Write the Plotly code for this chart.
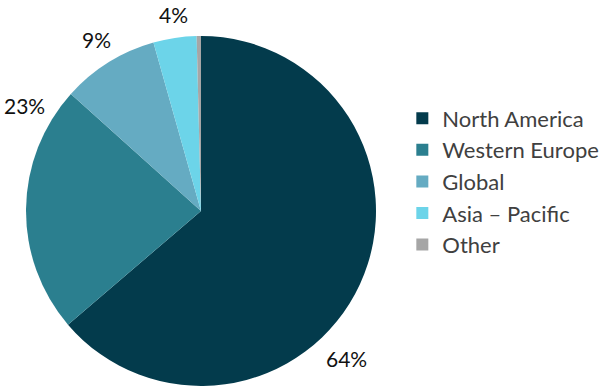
import plotly.graph_objects as go

# Revenue share by region
regions = ["North America", "Western Europe", "Global", "Asia – Pacific", "Other"]
shares = [64, 23, 9, 4, 0.4]
colors = ["#033B4C", "#2B7F8F", "#65ABC2", "#6CD4E9", "#A6A6A6"]

# Where each percentage label sits (paper coordinates); Other is left unlabelled
label_pos = [(0.572, 0.084), (0.041, 0.729), (0.159, 0.900), (0.286, 0.964), None]

fig = go.Figure(
    go.Pie(
        labels=regions,
        values=shares,
        sort=False,
        direction="clockwise",
        rotation=0,
        marker=dict(colors=colors, line=dict(width=0)),
        textinfo="none",
        hovertemplate="%{label}: %{value}%<extra></extra>",
        domain=dict(x=[0.043, 0.6215], y=[0.0128, 0.908]),
        showlegend=True,
    )
)

for value, pos in zip(shares, label_pos):
    if pos is None:
        continue
    fig.add_annotation(
        x=pos[0], y=pos[1], xref="paper", yref="paper",
        text=f"{value:.0f}%", showarrow=False,
        xanchor="center", yanchor="middle",
        font=dict(family="Lato", size=21, color="#111111"),
    )

fig.update_layout(
    width=605,
    height=391,
    margin=dict(l=0, r=0, t=0, b=0),
    paper_bgcolor="white",
    plot_bgcolor="white",
    legend=dict(
        x=0.665,
        y=0.536,
        xanchor="left",
        yanchor="middle",
        font=dict(family="Lato", size=22, color="#404040"),
        itemwidth=30,
        tracegroupgap=0,
    ),
)

fig.write_html("out.html")
